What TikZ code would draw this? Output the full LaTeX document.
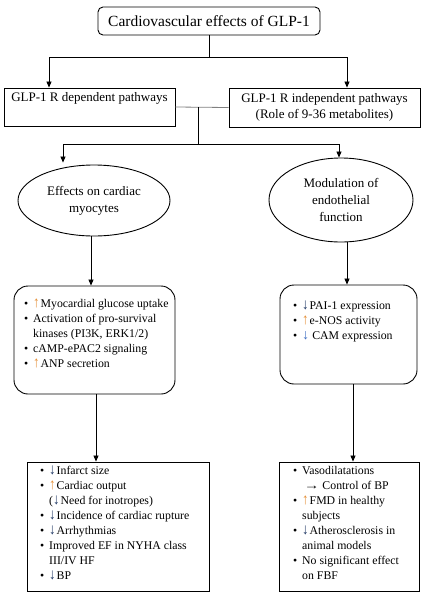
\documentclass[tikz,border=0pt]{standalone}
\usepackage{fontspec}
\usepackage{graphicx}
\setmainfont{Liberation Serif}
\usetikzlibrary{arrows.meta,shapes.geometric,calc}
\definecolor{uparr}{RGB}{228,140,50}
\definecolor{dnarr}{RGB}{31,56,100}
\definecolor{dnblue}{RGB}{68,114,196}
\newcommand\upa{{\color{uparr}\scalebox{1.1}[1.3]{↑}}\kern1pt}
\newcommand\dna{{\color{dnarr}\scalebox{1.1}[1.3]{↓}}\kern1pt}
\newcommand\dnb{{\color{dnblue}\scalebox{1.2}[1.2]{↓}}\kern3pt}
\newcommand\itm{\llap{\textbullet\hspace{5pt}}}
\begin{document}
\begin{tikzpicture}[x=1pt,y=-1pt,
  box/.style={draw, line width=0.9pt, inner sep=0pt},
  arr/.style={line width=0.8pt, -{Triangle[length=6pt,width=5pt]}},
  conn/.style={line width=0.8pt},
  lst/.style={anchor=north west, inner sep=0pt, align=left, font=\fontsize{11.8}{15}\selectfont},
  lbl/.style={font=\fontsize{13}{16}\selectfont, align=center},
  elbl/.style={font=\fontsize{13}{17}\selectfont, align=center}]
\useasboundingbox (0,0) rectangle (427,595);
\fill[white] (0,0) rectangle (427,595);
% top
\node[box, rounded corners=5pt, minimum width=222pt, minimum height=28pt, font=\fontsize{15.5}{18}\selectfont] (t) at (209,21) {Cardiovascular effects of GLP-1};
\node[box, lbl, minimum width=171pt, minimum height=38pt] (l) at (89.5,107) {GLP-1 R dependent pathways\\\strut};
\node[box, lbl, minimum width=191pt, minimum height=39pt] (r) at (324.5,107.5) {GLP-1 R independent pathways\\(Role of 9-36 metabolites)};
% ellipses
\node[draw, ellipse, line width=0.9pt, minimum width=152pt, minimum height=71pt, inner sep=0pt, elbl] (e1) at (94,200.5) {Effects on cardiac\\myocytes};
\node[draw, ellipse, line width=0.9pt, minimum width=144pt, minimum height=84pt, inner sep=0pt, elbl] (e2) at (341,200) {Modulation of\\endothelial\\function};
% boxes
\node[box, rounded corners=14pt, minimum width=161pt, minimum height=108pt] (b1) at (94.5,340) {};
\node[box, rounded corners=14pt, minimum width=137pt, minimum height=99pt] (b2) at (348.5,334.5) {};
\node[box, minimum width=182pt, minimum height=129pt] (b3) at (118,526.5) {};
\node[box, minimum width=140pt, minimum height=129pt] (b4) at (349,526.5) {};
% lists
\node[lst] (b1t) at (33,299) {\itm\upa Myocardial glucose uptake\\
\itm Activation of pro-survival\\
kinases (PI3K, ERK1/2)\\
\itm cAMP-ePAC2 signaling\\
\itm\upa ANP secretion};
\node[lst] (b2t) at (302,301) {\itm\dna PAI-1 expression\\
\itm\upa e-NOS activity\\
\itm\dnb CAM expression};
\node[lst] (b3t) at (49,466) {\itm\dna Infarct size\\
\itm\upa Cardiac output\\
(\dna Need for inotropes)\\
\itm\dna Incidence of cardiac rupture\\
\itm\dna Arrhythmias\\
\itm Improved EF in NYHA class\\
III/IV HF\\
\itm\dna BP};
\node[lst] (b4t) at (302,466) {\itm Vasodilatations\\
\hspace{2pt}\scalebox{1.3}[1]{→} Control of BP\\
\itm\upa FMD in healthy\\
subjects\\
\itm\dna Atherosclerosis in\\
animal models\\
\itm No significant effect\\
on FBF};
% connectors
\draw[arr] (t.south) -- ++(0,22) -| ([xshift=-40.5pt]l.north);
\draw[arr] (t.south) -- ++(0,22) -| ([xshift=22.5pt]r.north);
\draw[conn, gray] (l.east) -- (r.west);
\coordinate (jm) at (198,107);
\draw[arr] (jm) -- ++(0,37) -| ([xshift=-31pt,yshift=2pt]e1.north);
\draw[arr] (jm) -- ++(0,37) -| ([xshift=-2pt]e2.north);
\draw[arr] ([xshift=-3pt]e1.south) -- ([xshift=-3pt]e1.south |- b1.north);
\draw[arr] ([xshift=-1.5pt]b2.north |- e2.south) -- ([xshift=-1.5pt]b2.north);
\draw[arr] ([xshift=1.5pt]b1.south) -- ([xshift=1.5pt]b1.south |- b3.north);
\draw[arr] ([xshift=4.5pt]b2.south) -- ([xshift=4.5pt]b2.south |- b4.north);
\end{tikzpicture}
\end{document}
